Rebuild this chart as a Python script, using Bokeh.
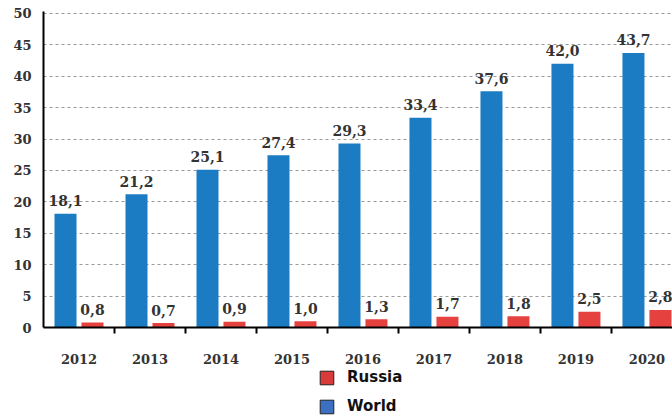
from bokeh.plotting import figure
from bokeh.layouts import column
from bokeh.models import (ColumnDataSource, FixedTicker, Range1d, Legend, LegendItem)
from bokeh.embed import file_html
from bokeh.resources import INLINE
from bokeh.core.properties import value

years = ["2012", "2013", "2014", "2015", "2016", "2017", "2018", "2019", "2020"]
world = [18.1, 21.2, 25.1, 27.4, 29.3, 33.4, 37.6, 42.0, 43.7]
russia = [0.8, 0.7, 0.9, 1.0, 1.3, 1.7, 1.8, 2.5, 2.8]
y_ticks = [0, 5, 10, 15, 20, 25, 30, 35, 40, 45, 50]

idx = list(range(len(years)))
fmt = lambda v: f"{v:.1f}".replace(".", ",")

src_w = ColumnDataSource(dict(x=[i - 0.19 for i in idx], top=world, lab=[fmt(v) for v in world]))
src_r = ColumnDataSource(dict(x=[i + 0.19 for i in idx], top=russia, lab=[fmt(v) for v in russia]))

p = figure(frame_width=629, frame_height=316, output_backend="svg", toolbar_location=None,
           x_range=Range1d(-0.5, 8.36), y_range=Range1d(0, 50.3),
           min_border_left=43, min_border_top=11, min_border_right=0, min_border_bottom=40)
p.outline_line_color = None
p.background_fill_color = "white"

serif = value("DejaVu Serif")
p.vbar(x="x", top="top", width=0.31, source=src_w, fill_color="#1b7cc4", line_color=None)
p.vbar(x="x", top="top", width=0.31, source=src_r, fill_color="#e5413f", line_color=None)

for s in (src_w, src_r):
    p.text(x="x", y="top", text="lab", source=s, text_align="center", text_baseline="alphabetic",
           y_offset=-13, text_font=serif, text_font_style="bold", text_font_size="14px",
           text_color="#333333")

# axes
p.yaxis.ticker = FixedTicker(ticks=y_ticks)
p.yaxis.major_tick_line_color = None
p.yaxis.minor_tick_line_color = None
p.yaxis.major_tick_out = 0
p.yaxis.major_tick_in = 0
p.yaxis.axis_line_width = 2
p.yaxis.axis_line_color = "black"
p.yaxis.major_label_standoff = 12
p.yaxis.major_label_text_font = "DejaVu Serif"
p.yaxis.major_label_text_font_style = "bold"
p.yaxis.major_label_text_font_size = "13px"
p.yaxis.major_label_text_color = "#333333"

p.xaxis.ticker = FixedTicker(ticks=idx, minor_ticks=[i + 0.5 for i in idx])
p.xaxis.major_label_overrides = {i: y for i, y in zip(idx, years)}
p.xaxis.major_tick_line_color = None
p.xaxis.major_tick_out = 0
p.xaxis.major_tick_in = 0
p.xaxis.minor_tick_line_color = "black"
p.xaxis.minor_tick_line_width = 2
p.xaxis.minor_tick_out = 6
p.xaxis.minor_tick_in = 0
p.xaxis.axis_line_width = 2
p.xaxis.axis_line_color = "black"
p.xaxis.major_label_standoff = 20
p.xaxis.major_label_text_font = "DejaVu Serif"
p.xaxis.major_label_text_font_style = "bold"
p.xaxis.major_label_text_font_size = "13px"
p.xaxis.major_label_text_color = "#333333"

p.xgrid.grid_line_color = None
p.ygrid.ticker = FixedTicker(ticks=y_ticks)
p.ygrid.grid_line_color = "#9a9a9a"
p.ygrid.grid_line_dash = "3 3"
p.ygrid.grid_line_width = 1

# legend strip below the chart (its renderers lie outside its visible ranges)
p2 = figure(width=672, height=50, output_backend="svg", toolbar_location=None,
            x_range=Range1d(100, 101), y_range=Range1d(100, 101),
            min_border=0)
p2.axis.visible = False
p2.grid.visible = False
p2.outline_line_color = None
r_leg = p2.vbar(x="x", top="top", width=0.31, source=src_r, fill_color="#d93a3a",
                line_color="#222222", line_width=1)
w_leg = p2.vbar(x="x", top="top", width=0.31, source=src_w, fill_color="#3a6fc2",
                line_color="#222222", line_width=1)
legend = Legend(items=[LegendItem(label="Russia", renderers=[r_leg]),
                       LegendItem(label="World", renderers=[w_leg])],
                location=(275, 2), orientation="vertical", margin=0, padding=0,
                glyph_width=17, glyph_height=17, label_height=17, spacing=11, label_standoff=12,
                label_text_font="DejaVu Sans", label_text_font_style="bold", label_text_font_size="15px",
                label_text_color="#111111", border_line_color=None, background_fill_alpha=0)
p2.add_layout(legend, "center")

layout = column(p, p2, spacing=0)
open("out.html", "w").write(file_html(layout, INLINE))
